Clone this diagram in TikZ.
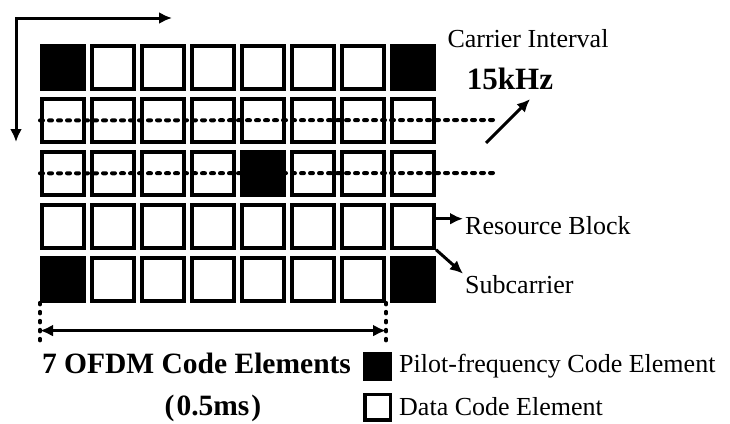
\documentclass[tikz,border=0pt]{standalone}
\usepackage{fontspec}
\setmainfont{Liberation Serif}
\usetikzlibrary{arrows.meta,positioning,calc}
\tikzset{
  rb/cell/.style={draw, line width=4pt, minimum width=42pt, minimum height=43pt, inner sep=0pt},
  rb/data/.style={rb/cell, fill=white},
  rb/pilot/.style={rb/cell, fill=black},
  rb/carrier/.style={line width=4pt, line cap=round, dash pattern=on 3pt off 6pt},
  rb/guide/.style={line width=3.5pt, line cap=round, dash pattern=on 2pt off 7pt},
  rb/arrow/.style={line width=3pt, -{Latex[length=13pt,width=12pt]}},
  rb/both/.style={line width=3pt, {Latex[length=13pt,width=12pt]}-{Latex[length=13pt,width=12pt]}},
  rb/label/.style={font=\fontsize{26}{30}\selectfont, inner sep=2pt},
  rb/value/.style={font=\fontsize{31}{35}\selectfont\bfseries, inner sep=2pt},
  rb/note/.style={font=\fontsize{29.5}{34}\selectfont\bfseries, inner sep=2pt},
  rb/key/.style={draw, line width=3.5pt, minimum size=25.5pt, inner sep=0pt}
}

\begin{document}
\begin{tikzpicture}[x=1pt, y=-1pt]
  \useasboundingbox (0,0) rectangle (730,423);

  % resource grid: 5 subcarriers x 8 code elements
  \foreach \r in {0,...,4}
    \foreach \c in {0,...,7}
      \node[rb/data] (c-\r-\c) at ({63+50*\c},{67.5+52.9*\r}) {};
  \foreach \r/\c in {0/0,0/7,2/4,4/0,4/7}
    \node[rb/pilot] (p-\r-\c) at (c-\r-\c) {};

  % time / frequency axes
  \coordinate (origin) at (16,18);
  \coordinate (taxis) at (172,18);
  \coordinate (faxis) at (16,142);
  \draw[rb/both] (taxis) -- (origin) -- (faxis);

  % subcarriers
  \coordinate (f1) at (498,120);
  \coordinate (f2) at (495,173);
  \draw[rb/carrier] (c-1-0.west) -- (f1);
  \draw[rb/carrier] (c-2-0.west) -- (f2);

  \node[rb/label] (interval) at (528,38.5) {Carrier Interval};
  \node[rb/value] (khz) at (510,79) {15kHz};
  \coordinate (kfrom) at (486,143);
  \draw[rb/arrow] (kfrom) -- ($(khz.south)+(20,7)$);

  \node[rb/label, anchor=west] (block) at (463,225.5) {Resource Block};
  \node[rb/label, anchor=west] (sub) at (463,285) {Subcarrier};
  \draw[rb/arrow] (c-3-7.18) -- (c-3-7.18 -| block.west);
  \draw[rb/arrow] (c-3-7.south east) -- (sub.north west);

  % slot length
  \coordinate (dl) at ([yshift=-43pt]c-4-0.south west);
  \coordinate (dr) at ([yshift=-43pt]c-4-6.south east);
  \draw[rb/guide] (c-4-0.south west) -- (dl);
  \draw[rb/guide] (c-4-6.south east) -- (dr);
  \draw[rb/both] ([yshift=15pt]dl) -- ([yshift=15pt]dr);
  \node[rb/note] (span) at (196.5,363) {7 OFDM Code Elements};
  \node[rb/note] (dur) at (213,408.5) {(\hspace{2pt}0.5ms\hspace{2pt})};

  % legend
  \node[rb/key, fill=black] (kp) at (377.5,366) {};
  \node[rb/key] (kd) at (377.5,407) {};
  \node[rb/label, right=5pt of kp] (kptext) {Pilot-frequency Code Element};
  \node[rb/label, right=5pt of kd] (kdtext) {Data Code Element};
\end{tikzpicture}
\end{document}
